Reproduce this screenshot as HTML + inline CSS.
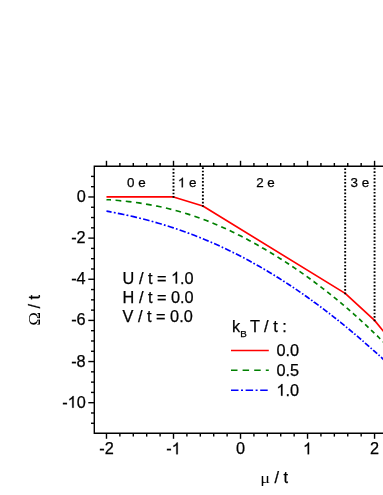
<!DOCTYPE html>
<html><head><meta charset="utf-8">
<style>
html,body{margin:0;padding:0;background:#fff;}
body{width:383px;height:495px;overflow:hidden;}
svg{display:block;will-change:transform;}
text{font-family:"Liberation Sans",sans-serif;font-size:16.3px;fill:#000;stroke:#000;stroke-width:0.25px;}
.s{font-family:"Liberation Serif",serif;stroke:none;}
.one{visibility:hidden;}
.z{font-size:13.4px;}
</style></head><body>
<svg width="383" height="495" viewBox="0 0 383 495">
<rect x="0" y="0" width="383" height="495" fill="#fff"/>
<g fill="none" stroke-linejoin="round">
<path d="M106.48,211.14 L106.55,211.15 L109.41,211.67 L111.57,212.07 M113.82,212.50 L113.83,212.50 L115.61,212.84 M117.84,213.29 L117.90,213.30 L120.76,213.88 L123.62,214.48 L124.37,214.64 M126.59,215.11 L126.61,215.12 L128.36,215.50 M130.56,216.00 L130.61,216.01 L133.47,216.67 L136.32,217.34 L137.01,217.51 M139.20,218.04 L139.25,218.05 L140.95,218.48 M143.13,219.03 L143.18,219.04 L146.03,219.78 L148.89,220.54 L149.48,220.70 M151.64,221.29 L151.67,221.30 L153.36,221.76 M155.50,222.37 L155.53,222.38 L158.39,223.20 L161.24,224.04 L161.76,224.20 M163.88,224.84 L163.88,224.84 L165.57,225.36 M167.68,226.02 L167.74,226.04 L170.60,226.95 L173.45,227.89 L173.83,228.01 M175.91,228.71 L175.95,228.72 L177.57,229.27 M179.64,229.98 L179.66,229.99 L182.52,230.99 L185.37,232.01 L185.67,232.12 M187.71,232.86 L187.73,232.87 L189.34,233.47 M191.36,234.23 L191.37,234.23 L194.23,235.32 L197.08,236.44 L197.27,236.51 M199.27,237.30 L199.30,237.31 L200.87,237.95 M202.85,238.75 L202.87,238.76 L205.72,239.94 L208.58,241.15 L208.64,241.17 M210.59,242.01 L210.65,242.03 L212.16,242.69 M214.10,243.54 L214.15,243.56 L217.00,244.83 L219.76,246.08 M221.67,246.96 L221.72,246.98 L223.20,247.67 M225.10,248.57 L225.14,248.59 L228.00,249.95 L230.64,251.23 M232.51,252.15 L232.57,252.17 L234.01,252.89 M235.87,253.82 L235.92,253.85 L238.78,255.30 L241.28,256.59 M243.11,257.54 L243.14,257.55 L244.57,258.31 M246.39,259.28 L246.42,259.29 L249.28,260.83 L251.69,262.14 M253.48,263.13 L253.49,263.14 L254.91,263.92 M256.68,264.92 L256.70,264.93 L259.56,266.55 L261.86,267.88 M263.62,268.90 L263.63,268.90 L265.01,269.72 M266.76,270.75 L266.77,270.75 L269.62,272.46 L271.82,273.79 M273.54,274.83 L273.55,274.84 L274.91,275.67 M276.61,276.73 L276.62,276.74 L279.48,278.52 L281.57,279.85 M283.25,280.92 L283.26,280.93 L284.59,281.78 M286.26,282.86 L286.26,282.86 L289.12,284.73 L291.11,286.05 M292.76,287.14 L292.76,287.14 L294.07,288.02 M295.70,289.12 L295.76,289.16 L298.61,291.10 L300.46,292.38 M302.07,293.49 L302.11,293.52 L303.36,294.39 M304.96,295.51 L304.97,295.52 L307.82,297.54 L309.62,298.82 M311.20,299.96 L311.25,300.00 L312.46,300.87 M314.03,302.01 L314.03,302.02 L316.89,304.11 L318.60,305.38 M320.15,306.53 L320.17,306.55 L321.39,307.46 M322.93,308.62 L322.96,308.64 L325.81,310.81 L327.42,312.04 M328.94,313.21 L328.96,313.22 L330.15,314.15 M331.66,315.32 L331.67,315.33 L334.52,317.57 L336.07,318.79 M337.56,319.97 L337.59,320.00 L338.75,320.93 M340.23,322.12 L340.24,322.12 L343.09,324.43 L344.56,325.62 M346.03,326.82 L346.09,326.87 L347.20,327.79 M348.66,328.99 L348.66,328.99 L351.52,331.37 L352.91,332.54 M354.36,333.75 L354.37,333.77 L355.51,334.72 M356.94,335.94 L356.94,335.94 L359.80,338.38 L361.13,339.52 M362.54,340.75 L362.58,340.78 L363.68,341.73 M365.09,342.96 L365.15,343.02 L368.01,345.52 L369.21,346.57 M370.61,347.81 L370.65,347.85 L371.72,348.80 M373.11,350.04 L373.15,350.08 L376.01,352.64 L377.17,353.69 M378.54,354.94 L378.58,354.97 L379.64,355.93 M381.01,357.18 L381.08,357.24 L383.93,359.86 L385.01,360.86 M386.37,362.11 L386.43,362.17 L387.45,363.12 M388.80,364.38 L388.86,364.43 L391.71,367.11 L392.00,367.38" stroke="#0000ff" stroke-width="1.7"/>
<path d="M106.48,199.54 L106.55,199.55 L109.41,199.76 L111.01,199.88 M115.54,200.25 L115.55,200.25 L118.40,200.51 L121.26,200.79 L121.28,200.79 M125.79,201.26 L125.83,201.27 L128.68,201.59 L131.50,201.93 M135.97,202.52 L136.04,202.53 L138.89,202.93 L141.64,203.34 M146.07,204.05 L146.11,204.06 L148.96,204.55 L151.68,205.04 M156.06,205.88 L156.10,205.89 L158.96,206.48 L161.59,207.04 M165.91,208.02 L165.95,208.03 L168.81,208.71 L171.35,209.35 M175.59,210.46 L175.59,210.46 L178.45,211.24 L180.94,211.95 M185.10,213.19 L185.16,213.21 L188.02,214.10 L190.34,214.84 M194.41,216.20 L194.44,216.21 L197.30,217.20 L199.54,218.00 M203.52,219.46 L203.58,219.48 L206.44,220.57 L208.54,221.40 M212.44,222.96 L212.51,222.99 L215.36,224.17 L217.34,225.01 M221.16,226.67 L221.22,226.70 L224.07,227.97 L225.96,228.83 M229.69,230.57 L229.71,230.58 L232.57,231.94 L234.38,232.83 M238.04,234.63 L238.07,234.65 L240.92,236.09 L242.64,236.97 M246.22,238.84 L246.28,238.87 L249.13,240.40 L250.73,241.26 M254.24,243.19 L254.27,243.20 L257.13,244.80 L258.67,245.67 M262.12,247.64 L262.13,247.65 L264.98,249.31 L266.47,250.19 M269.86,252.21 L269.91,252.24 L272.77,253.97 L274.14,254.81 M277.47,256.87 L277.48,256.88 L280.33,258.67 L281.67,259.52 M284.94,261.62 L284.97,261.64 L287.83,263.50 L289.08,264.32 M292.30,266.46 L292.33,266.48 L295.18,268.41 L296.36,269.20 M299.52,271.38 L299.54,271.39 L302.40,273.38 L303.51,274.17 M306.62,276.38 L306.68,276.42 L309.54,278.47 L310.55,279.21 M313.60,281.45 L313.61,281.45 L316.46,283.58 L317.45,284.32 M320.46,286.60 L320.46,286.60 L323.32,288.80 L324.24,289.51 M327.19,291.82 L327.24,291.86 L330.10,294.12 L330.90,294.77 M333.80,297.10 L333.81,297.11 L336.67,299.45 L337.45,300.09 M340.29,302.45 L340.31,302.47 L343.16,304.87 L343.88,305.47 M346.67,307.86 L346.73,307.92 L349.59,310.39 L350.19,310.92 M352.93,313.33 L352.95,313.34 L355.80,315.88 L356.40,316.41 M359.09,318.85 L359.16,318.90 L362.01,321.51 L362.50,321.96 M365.15,324.42 L365.15,324.42 L368.01,327.09 L368.50,327.55 M371.11,330.03 L371.15,330.07 L374.01,332.81 L374.41,333.19 M376.98,335.69 L377.01,335.71 L379.86,338.51 L380.23,338.87 M382.76,341.38 L382.79,341.41 L385.65,344.27 L385.96,344.59 M388.46,347.12 L388.50,347.16 L391.36,350.08 L391.62,350.34" stroke="#008000" stroke-width="1.7"/>
<path d="M106.48,196.97 L173.50,196.97 L202.88,205.99 L345.18,293.35 L374.56,320.41 L394.67,345.10" stroke="#ff0000" stroke-width="1.7"/>
</g>
<g stroke="#000" stroke-width="1.9" stroke-dasharray="1.7 1.75" fill="none">
<line x1="173.50" y1="197.82" x2="173.50" y2="166.30"/>
<line x1="202.88" y1="206.84" x2="202.88" y2="166.30"/>
<line x1="345.18" y1="294.20" x2="345.18" y2="166.30"/>
<line x1="374.56" y1="321.26" x2="374.56" y2="166.30"/>
</g>
<g stroke="#000" stroke-width="1.4" fill="none" stroke-linecap="square">
<path d="M400,166.3 L94.3,166.3 L94.3,433.3 L400,433.3"/>
</g>
<g stroke="#000" stroke-width="1.4" fill="none">
<line x1="106.48" y1="166.30" x2="106.48" y2="160.80"/>
<line x1="106.48" y1="433.30" x2="106.48" y2="438.80"/>
<line x1="119.88" y1="166.30" x2="119.88" y2="163.00"/>
<line x1="119.88" y1="433.30" x2="119.88" y2="436.60"/>
<line x1="133.29" y1="166.30" x2="133.29" y2="163.00"/>
<line x1="133.29" y1="433.30" x2="133.29" y2="436.60"/>
<line x1="146.69" y1="166.30" x2="146.69" y2="163.00"/>
<line x1="146.69" y1="433.30" x2="146.69" y2="436.60"/>
<line x1="160.10" y1="166.30" x2="160.10" y2="163.00"/>
<line x1="160.10" y1="433.30" x2="160.10" y2="436.60"/>
<line x1="173.50" y1="166.30" x2="173.50" y2="160.80"/>
<line x1="173.50" y1="433.30" x2="173.50" y2="438.80"/>
<line x1="186.90" y1="166.30" x2="186.90" y2="163.00"/>
<line x1="186.90" y1="433.30" x2="186.90" y2="436.60"/>
<line x1="200.31" y1="166.30" x2="200.31" y2="163.00"/>
<line x1="200.31" y1="433.30" x2="200.31" y2="436.60"/>
<line x1="213.71" y1="166.30" x2="213.71" y2="163.00"/>
<line x1="213.71" y1="433.30" x2="213.71" y2="436.60"/>
<line x1="227.12" y1="166.30" x2="227.12" y2="163.00"/>
<line x1="227.12" y1="433.30" x2="227.12" y2="436.60"/>
<line x1="240.52" y1="166.30" x2="240.52" y2="160.80"/>
<line x1="240.52" y1="433.30" x2="240.52" y2="438.80"/>
<line x1="253.92" y1="166.30" x2="253.92" y2="163.00"/>
<line x1="253.92" y1="433.30" x2="253.92" y2="436.60"/>
<line x1="267.33" y1="166.30" x2="267.33" y2="163.00"/>
<line x1="267.33" y1="433.30" x2="267.33" y2="436.60"/>
<line x1="280.73" y1="166.30" x2="280.73" y2="163.00"/>
<line x1="280.73" y1="433.30" x2="280.73" y2="436.60"/>
<line x1="294.14" y1="166.30" x2="294.14" y2="163.00"/>
<line x1="294.14" y1="433.30" x2="294.14" y2="436.60"/>
<line x1="307.54" y1="166.30" x2="307.54" y2="160.80"/>
<line x1="307.54" y1="433.30" x2="307.54" y2="438.80"/>
<line x1="320.94" y1="166.30" x2="320.94" y2="163.00"/>
<line x1="320.94" y1="433.30" x2="320.94" y2="436.60"/>
<line x1="334.35" y1="166.30" x2="334.35" y2="163.00"/>
<line x1="334.35" y1="433.30" x2="334.35" y2="436.60"/>
<line x1="347.75" y1="166.30" x2="347.75" y2="163.00"/>
<line x1="347.75" y1="433.30" x2="347.75" y2="436.60"/>
<line x1="361.16" y1="166.30" x2="361.16" y2="163.00"/>
<line x1="361.16" y1="433.30" x2="361.16" y2="436.60"/>
<line x1="374.56" y1="166.30" x2="374.56" y2="160.80"/>
<line x1="374.56" y1="433.30" x2="374.56" y2="438.80"/>
<line x1="387.96" y1="166.30" x2="387.96" y2="163.00"/>
<line x1="387.96" y1="433.30" x2="387.96" y2="436.60"/>
<line x1="94.30" y1="423.27" x2="91.00" y2="423.27"/>
<line x1="94.30" y1="412.99" x2="91.00" y2="412.99"/>
<line x1="94.30" y1="402.70" x2="88.30" y2="402.70"/>
<line x1="94.30" y1="392.41" x2="91.00" y2="392.41"/>
<line x1="94.30" y1="382.13" x2="91.00" y2="382.13"/>
<line x1="94.30" y1="371.84" x2="91.00" y2="371.84"/>
<line x1="94.30" y1="361.55" x2="88.30" y2="361.55"/>
<line x1="94.30" y1="351.27" x2="91.00" y2="351.27"/>
<line x1="94.30" y1="340.98" x2="91.00" y2="340.98"/>
<line x1="94.30" y1="330.69" x2="91.00" y2="330.69"/>
<line x1="94.30" y1="320.41" x2="88.30" y2="320.41"/>
<line x1="94.30" y1="310.12" x2="91.00" y2="310.12"/>
<line x1="94.30" y1="299.84" x2="91.00" y2="299.84"/>
<line x1="94.30" y1="289.55" x2="91.00" y2="289.55"/>
<line x1="94.30" y1="279.26" x2="88.30" y2="279.26"/>
<line x1="94.30" y1="268.98" x2="91.00" y2="268.98"/>
<line x1="94.30" y1="258.69" x2="91.00" y2="258.69"/>
<line x1="94.30" y1="248.40" x2="91.00" y2="248.40"/>
<line x1="94.30" y1="238.12" x2="88.30" y2="238.12"/>
<line x1="94.30" y1="227.83" x2="91.00" y2="227.83"/>
<line x1="94.30" y1="217.54" x2="91.00" y2="217.54"/>
<line x1="94.30" y1="207.26" x2="91.00" y2="207.26"/>
<line x1="94.30" y1="196.97" x2="88.30" y2="196.97"/>
<line x1="94.30" y1="186.68" x2="91.00" y2="186.68"/>
<line x1="94.30" y1="176.40" x2="91.00" y2="176.40"/>
</g>
<g>
<text x="106.48" y="454.3" text-anchor="middle">-2</text>
<text x="173.50" y="454.3" text-anchor="middle">-<tspan class="one">1</tspan></text>
<text x="240.52" y="454.3" text-anchor="middle">0</text>
<text x="307.54" y="454.3" text-anchor="middle"><tspan class="one">1</tspan></text>
<text x="374.56" y="454.3" text-anchor="middle">2</text>
<text x="85.7" y="201.97" text-anchor="end">0</text>
<text x="85.7" y="243.12" text-anchor="end">-2</text>
<text x="85.7" y="284.26" text-anchor="end">-4</text>
<text x="85.7" y="325.41" text-anchor="end">-6</text>
<text x="85.7" y="366.55" text-anchor="end">-8</text>
<text x="85.7" y="407.70" text-anchor="end">-<tspan class="one">1</tspan>0</text>
</g>
<g class="z">
<text class="z" x="127.0" y="187.3">0 e</text>
<text class="z" x="177.9" y="187.3"><tspan class="one">1</tspan> e</text>
<text class="z" x="256.2" y="187.3">2 e</text>
<text class="z" x="350.5" y="187.3">3 e</text>
</g>
<text x="122.6" y="283.5">U / t = <tspan class="one">1</tspan>.0</text>
<text x="122.6" y="302.7">H / t = 0.0</text>
<text x="122.6" y="321.9">V / t = 0.0</text>
<text x="232.0" y="331.5">k<tspan font-size="9.8" dy="5.2">B</tspan><tspan dy="-5.2" dx="-1.0"> T / t :</tspan></text>
<g fill="none" stroke-width="1.5">
<line x1="231" y1="350.5" x2="268.8" y2="350.5" stroke="#ff0000"/>
<line x1="231" y1="370.3" x2="268.8" y2="370.3" stroke="#008000" stroke-dasharray="6.5 5.1"/>
<line x1="231" y1="390.15" x2="268.3" y2="390.15" stroke="#0000ff" stroke-dasharray="7.5 2.5 2 2.6"/>
</g>
<text x="276.4" y="355.9">0.0</text>
<text x="276.4" y="375.79999999999995">0.5</text>
<text x="276.4" y="395.7"><tspan class="one">1</tspan>.0</text>
<text class="s" style="font-size:15.5px" transform="translate(260.35,482.9) scale(1.18,1)">μ</text>
<text x="274.45" y="482.5">/ t</text>
<text class="s" style="font-size:16.9px" transform="translate(40.1,325.7) rotate(-90) scale(1.1,1)">Ω</text>
<text transform="translate(40.1,308.45) rotate(-90)">/ t</text>
<g fill="#000" stroke="#000">
<path d="M763 0H583V1147Q518 1085 412.5 1023T223 930V1104Q374 1175 487 1276T647 1472H763V0Z" transform="translate(171.68,454.30) scale(0.007959,-0.007959)" stroke-width="31.4"/>
<path d="M763 0H583V1147Q518 1085 412.5 1023T223 930V1104Q374 1175 487 1276T647 1472H763V0Z" transform="translate(303.01,454.30) scale(0.007959,-0.007959)" stroke-width="31.4"/>
<path d="M763 0H583V1147Q518 1085 412.5 1023T223 930V1104Q374 1175 487 1276T647 1472H763V0Z" transform="translate(67.57,407.70) scale(0.007959,-0.007959)" stroke-width="31.4"/>
<path d="M763 0H583V1147Q518 1085 412.5 1023T223 930V1104Q374 1175 487 1276T647 1472H763V0Z" transform="translate(177.90,187.30) scale(0.006543,-0.006543)" stroke-width="38.2"/>
<path d="M763 0H583V1147Q518 1085 412.5 1023T223 930V1104Q374 1175 487 1276T647 1472H763V0Z" transform="translate(171.02,283.50) scale(0.007959,-0.007959)" stroke-width="31.4"/>
<path d="M763 0H583V1147Q518 1085 412.5 1023T223 930V1104Q374 1175 487 1276T647 1472H763V0Z" transform="translate(276.40,395.70) scale(0.007959,-0.007959)" stroke-width="31.4"/>
</g>
</svg>
</body></html>
